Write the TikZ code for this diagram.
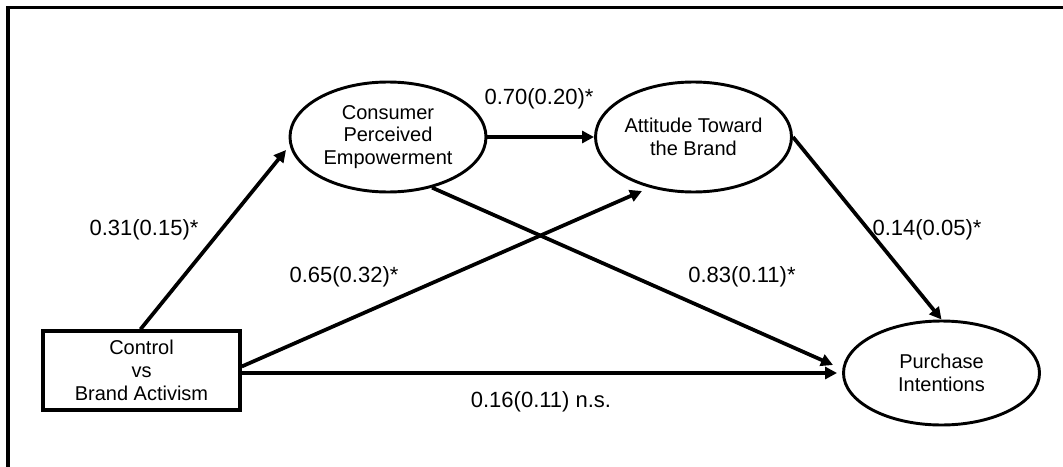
\documentclass[tikz,border=0pt]{standalone}
\usepackage{fontspec}
\setmainfont{Liberation Sans}
\usetikzlibrary{shapes.geometric,arrows.meta,calc}
\tikzset{
  latent/.style={draw, ellipse, line width=2.2pt, minimum width=196*0.75pt, minimum height=110*0.75pt, inner sep=0pt, align=center, font=\fontsize{15}{17}\selectfont},
  observed/.style={draw, rectangle, line width=2.6pt, minimum width=197*0.75pt, minimum height=79*0.75pt, inner sep=0pt, align=center, font=\fontsize{15}{17}\selectfont},
  arr/.style={line width=2.8pt, -{Triangle[length=9pt,width=9pt]}},
  coef/.style={font=\fontsize{16.5}{19}\selectfont, inner sep=0pt},
  frame/.style={line width=2.3pt}
}
\begin{document}
\begin{tikzpicture}[x=0.75pt,y=-0.75pt]
\useasboundingbox (0,0) rectangle (1063,467);
\fill[white] (0,0) rectangle (1063,467);
\draw[frame] (8,470) -- (8,7.5) -- (1063,7.5);

\node[observed] (box) at (141.5,370.5) {Control\\vs\\Brand Activism};
\node[latent] (pe) at (388,137) {Consumer\\Perceived\\Empowerment};
\node[latent] (at) at (693.5,137) {Attitude Toward\\the Brand};
\node[latent, minimum height=104*0.75pt] (pu) at (941.5,373) {Purchase\\Intentions};

\draw[arr] ($(box.north)+(-1,0)$) -- ($(pe.center)+(-102,13)$);
\draw[arr] (pe.east) -- (at.west);
\draw[arr] ($(box.east)+(0,-4)$) -- ($(at.center)+(-51.5,54)$);
\draw[arr] ($(box.east)+(0,2.5)$) -- ($(pu.west)+(-5,0)$);
\draw[arr] (pe.-49) -- ($(pu.center)+(-108.5,-8)$);
\draw[arr] (at.east) -- (pu.north);

\node[coef] (l1) at (144,230) {0.31(0.15)*};
\node[coef] (l2) at (539,99) {0.70(0.20)*};
\node[coef] (l3) at (344,277) {0.65(0.32)*};
\node[coef] (l4) at (742,277) {0.83(0.11)*};
\node[coef] (l5) at (927,230) {0.14(0.05)*};
\node[coef] (l6) at (541,402) {0.16(0.11) n.s.};
\end{tikzpicture}
\end{document}
